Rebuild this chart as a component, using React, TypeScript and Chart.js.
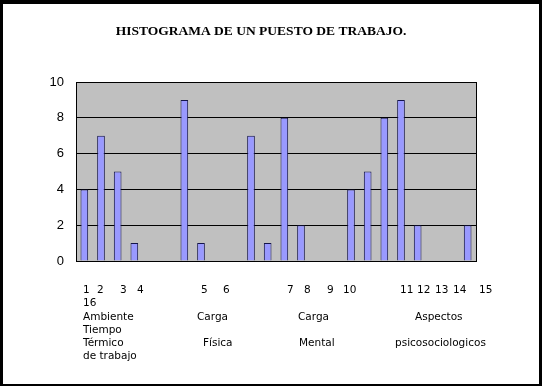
import React, { useEffect, useRef } from "react";
import { Chart, registerables } from "chart.js";

Chart.register(...registerables);

const chartTitle = "HISTOGRAMA DE UN PUESTO DE TRABAJO.";
const categories = [
  "1", "2", "3", "4", "5", "6", "7", "8", "9", "10", "11", "12",
  "13", "14", "15", "16", "17", "18", "19", "20", "21", "22", "23", "24",
];
const values = [4, 7, 5, 1, 0, 0, 9, 1, 0, 0, 7, 1, 8, 2, 0, 0, 4, 5, 8, 9, 2, 0, 0, 2];
const yTicks = [0, 2, 4, 6, 8, 10];
const itemNumbers = ["1", "2", "3", "4", "5", "6", "7", "8", "9", "10", "11", "12", "13", "14", "15", "16"];
const groupWordsTop = ["Ambiente", "Carga", "Carga", "Aspectos"];
const groupWordsBottom = ["Térmico", "Física", "Mental", "psicosociologicos"];
const extraLines = ["Tiempo", "de trabajo"];

// layout (pixel positions for text, not data)
const numberX = [83, 97, 120, 137, 201, 223, 287, 304, 327, 343, 400, 417, 435, 453, 479, 83];
const topWordX = [83, 197, 298, 415];
const bottomWordX = [83, 203, 299, 395];

const decorPlugin = {
  id: "decor",
  beforeDraw(chart: any) {
    const { ctx, chartArea } = chart;
    ctx.save();
    ctx.fillStyle = "#ffffff";
    ctx.fillRect(0, 0, chart.width, chart.height);
    ctx.fillStyle = "#c0c0c0";
    ctx.fillRect(chartArea.left, chartArea.top, chartArea.right - chartArea.left, chartArea.bottom - chartArea.top);
    ctx.restore();
  },
  beforeDatasetsDraw(chart: any) {
    const { ctx, chartArea } = chart;
    ctx.save();
    ctx.strokeStyle = "#000000";
    ctx.lineWidth = 1;
    ctx.strokeRect(
      Math.round(chartArea.left) + 0.5,
      Math.round(chartArea.top) + 0.5,
      Math.round(chartArea.right - chartArea.left),
      Math.round(chartArea.bottom - chartArea.top)
    );
    ctx.restore();
  },
  afterDraw(chart: any) {
    const { ctx } = chart;
    ctx.save();
    // title
    ctx.fillStyle = "#000000";
    ctx.font = "bold 13.5px 'Liberation Serif', serif";
    ctx.textAlign = "center";
    ctx.textBaseline = "middle";
    ctx.fillText(chartTitle, 261, 32);

    // bottom text block
    ctx.font = "10.5px 'DejaVu Sans', sans-serif";
    ctx.textAlign = "left";
    ctx.textBaseline = "alphabetic";
    const lineY = [293, 306, 320, 333, 346, 359];
    itemNumbers.forEach((t, i) => {
      const y = i === itemNumbers.length - 1 ? lineY[1] : lineY[0];
      ctx.fillText(t, numberX[i], y);
    });
    groupWordsTop.forEach((t, i) => ctx.fillText(t, topWordX[i], lineY[2]));
    ctx.fillText(extraLines[0], 83, lineY[3]);
    groupWordsBottom.forEach((t, i) => ctx.fillText(t, bottomWordX[i], lineY[4]));
    ctx.fillText(extraLines[1], 83, lineY[5]);

    // outer frame
    ctx.fillStyle = "#000000";
    ctx.fillRect(0, 0, chart.width, 4);
    ctx.fillRect(0, 0, 3, chart.height);
    ctx.fillRect(chart.width - 3, 0, 3, chart.height);
    ctx.fillRect(0, chart.height - 2, chart.width, 2);
    ctx.restore();
  },
};

export default function App() {
  const ref = useRef<HTMLCanvasElement>(null);

  useEffect(() => {
    document.body.style.margin = "0";
    const canvas = ref.current;
    if (!canvas) return;
    const chart = new Chart(canvas, {
      type: "bar",
      data: {
        labels: categories,
        datasets: [
          {
            data: values,
            backgroundColor: "#9999ff",
            borderColor: "#14144a",
            borderWidth: 1,
            barPercentage: 0.46,
            categoryPercentage: 1,
          },
        ],
      },
      options: {
        animation: false,
        responsive: false,
        devicePixelRatio: 1,
        layout: { padding: { top: 82, right: 66, bottom: 125, left: 0 } },
        plugins: {
          legend: { display: false },
          title: { display: false },
          tooltip: { enabled: false },
        },
        scales: {
          x: { display: false },
          y: {
            min: 0,
            max: 10,
            afterFit(scale: any) {
              scale.width = 76;
            },
            afterBuildTicks(scale: any) {
              scale.ticks = yTicks.map((v) => ({ value: v }));
            },
            ticks: {
              color: "#000000",
              padding: 12,
              font: { family: "'Liberation Sans', Arial, sans-serif", size: 13 },
            },
            grid: { color: "#000000", lineWidth: 1, drawTicks: false },
            border: { display: true, color: "#000000" },
          },
        },
      },
      plugins: [decorPlugin],
    });
    return () => chart.destroy();
  }, []);

  return <canvas ref={ref} width={542} height={386} style={{ display: "block" }} />;
}
